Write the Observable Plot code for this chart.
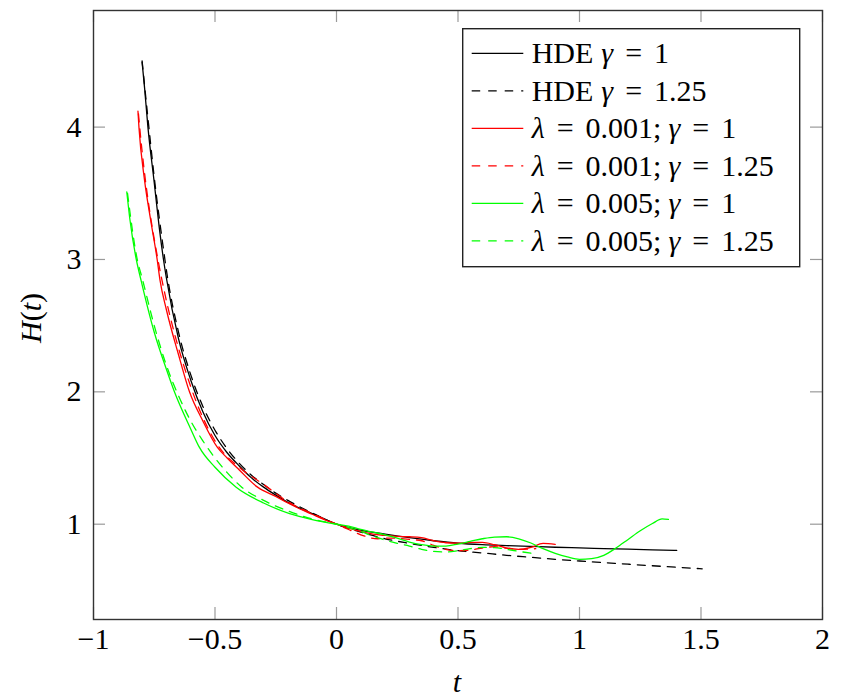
<!DOCTYPE html>
<html><head><meta charset="utf-8">
<script src="https://cdn.jsdelivr.net/npm/d3@7"></script>
<script src="https://cdn.jsdelivr.net/npm/@observablehq/plot@0.6"></script>
<style>
body{margin:0;background:#fff;}
#wrap{position:relative;width:842px;height:700px;font-family:'Liberation Serif','Times New Roman',serif;}
.lab{position:absolute;font-family:'Liberation Serif','Times New Roman',serif;font-size:30px;color:#000;white-space:nowrap;line-height:1;}
.lab i{font-style:italic;}
#legend{position:absolute;left:462px;top:28px;}
</style></head><body>
<div id="wrap">
<div class="lab" id="ylab" style="left:31px;top:318px;transform:translate(-50%,-50%) rotate(-90deg);z-index:2"><i>H</i>(<i>t</i>)</div>
<div class="lab" id="xlab" style="left:457px;top:682px;transform:translate(-50%,-50%);z-index:2"><i>t</i></div>
<div id="chartbox"></div>
</div>
<script>
// ---- data ----
const xTicks = [-1, -0.5, 0, 0.5, 1, 1.5, 2];
const yTicks = [1, 2, 3, 4];

// HDE, gamma = 1 (black solid)
const tHde1 = [-0.80,-0.79,-0.776,-0.75,-0.73,-0.712,-0.70,-0.65,-0.60,-0.55,-0.50,-0.45,-0.40,-0.35,-0.30,-0.25,-0.20,-0.15,-0.10,-0.05,0,0.1,0.2,0.3,0.4,0.5,0.6,0.7,0.8,0.9,1.0,1.1,1.2,1.3,1.4];
const hHde1 = [4.49,4.30,4.00,3.58,3.25,3.00,2.86,2.40,2.09,1.85,1.67,1.54,1.44,1.35,1.28,1.22,1.165,1.12,1.08,1.04,1.00,0.955,0.925,0.898,0.875,0.856,0.845,0.838,0.832,0.826,0.821,0.816,0.811,0.806,0.802];
// HDE, gamma = 1.25 (black dashed)
const tHde125 = [-0.80,-0.775,-0.75,-0.71,-0.70,-0.65,-0.60,-0.55,-0.50,-0.45,-0.40,-0.35,-0.30,-0.25,-0.20,-0.15,-0.10,-0.05,0,0.1,0.2,0.3,0.4,0.5,0.6,0.7,0.8,0.9,1.0,1.1,1.2,1.3,1.4,1.505];
const hHde125 = [4.50,4.05,3.62,3.05,2.92,2.45,2.13,1.89,1.71,1.57,1.46,1.37,1.30,1.235,1.18,1.13,1.085,1.04,1.00,0.94,0.89,0.855,0.825,0.80,0.783,0.765,0.75,0.735,0.722,0.71,0.698,0.686,0.675,0.663];
// lambda = 0.001, gamma = 1 (red solid)
const tR1 = [-0.817,-0.813,-0.79,-0.765,-0.738,-0.726,-0.70,-0.65,-0.605,-0.55,-0.49,-0.45,-0.40,-0.325,-0.25,-0.20,-0.15,-0.10,-0.05,0,0.05,0.1,0.15,0.2,0.25,0.3,0.35,0.4,0.45,0.5,0.55,0.6,0.65,0.7,0.75,0.8,0.85,0.9];
const hR1 = [4.12,4.00,3.60,3.30,3.00,2.84,2.62,2.28,2.00,1.78,1.58,1.50,1.41,1.28,1.21,1.16,1.115,1.075,1.035,1.00,0.97,0.945,0.925,0.915,0.908,0.905,0.898,0.875,0.86,0.857,0.862,0.862,0.845,0.82,0.81,0.825,0.855,0.848];
// lambda = 0.001, gamma = 1.25 (red dashed)
const tR125 = [-0.815,-0.81,-0.735,-0.72,-0.60,-0.49,-0.40,-0.30,-0.20,-0.10,0,0.05,0.1,0.17,0.22,0.3,0.35,0.4,0.45,0.5,0.55,0.6,0.65,0.7,0.75,0.82];
const hR125 = [4.10,4.00,3.00,2.86,2.04,1.60,1.43,1.30,1.17,1.08,1.00,0.96,0.92,0.89,0.895,0.885,0.875,0.84,0.81,0.80,0.805,0.82,0.83,0.82,0.81,0.815];
// lambda = 0.005, gamma = 1 (green solid)
const tG1 = [-0.863,-0.85,-0.824,-0.804,-0.75,-0.70,-0.667,-0.60,-0.564,-0.50,-0.413,-0.30,-0.193,-0.10,0,0.05,0.1,0.15,0.2,0.25,0.3,0.35,0.4,0.45,0.5,0.55,0.6,0.65,0.7,0.75,0.8,0.85,0.9,0.95,1.0,1.05,1.1,1.15,1.2,1.25,1.3,1.34,1.366];
const hG1 = [3.51,3.30,3.00,2.84,2.45,2.17,2.00,1.72,1.58,1.43,1.28,1.16,1.08,1.035,1.00,0.985,0.96,0.94,0.92,0.895,0.865,0.845,0.835,0.835,0.85,0.87,0.89,0.903,0.905,0.89,0.858,0.815,0.78,0.753,0.735,0.74,0.765,0.82,0.885,0.95,1.005,1.04,1.036];
// lambda = 0.005, gamma = 1.25 (green dashed)
const tG125 = [-0.86,-0.82,-0.80,-0.75,-0.70,-0.65,-0.60,-0.55,-0.50,-0.45,-0.39,-0.30,-0.20,-0.10,0,0.05,0.1,0.15,0.2,0.25,0.3,0.35,0.4,0.45,0.5,0.55,0.6,0.65,0.7,0.75,0.82];
const hG125 = [3.50,3.00,2.86,2.50,2.20,1.97,1.78,1.63,1.50,1.39,1.28,1.18,1.10,1.04,1.00,0.975,0.945,0.91,0.88,0.855,0.835,0.81,0.795,0.79,0.80,0.815,0.825,0.823,0.81,0.795,0.775];

const seriesNames = ["HDE γ = 1","HDE γ = 1.25","λ = 0.001; γ = 1","λ = 0.001; γ = 1.25","λ = 0.005; γ = 1","λ = 0.005; γ = 1.25"];
const seriesT = [tHde1, tHde125, tR1, tR125, tG1, tG125];
const seriesH = [hHde1, hHde125, hR1, hR125, hG1, hG125];
const seriesColor = ["#000000","#000000","#ff0000","#ff0000","#00ff00","#00ff00"];
const seriesDash = [null, "8,7", null, "8,7", null, "8,7"];

// ---- chart ----
const W = 842, H = 700, mL = 93, mR = 20, mT = 10, mB = 81;
const innerW = W - mL - mR, innerH = H - mT - mB;
const tickLen = 12;
const fmt = d => (d < 0 ? "\u2212" : "") + Math.abs(d);
const font = "'Liberation Serif', 'Times New Roman', serif";
const fs = 30;

function draw() {
  const box = document.getElementById("chartbox");
  box.innerHTML = "";
  const lineMarks = seriesT.map((ts, i) => Plot.line(ts.map((t, j) => ({t, H: seriesH[i][j]})), {
    x: "t", y: "H", stroke: seriesColor[i], strokeWidth: 1.3,
    strokeDasharray: seriesDash[i] || undefined, curve: "monotone-x"
  }));
  const chart = Plot.plot({
    width: W, height: H, marginLeft: mL, marginRight: mR, marginTop: mT, marginBottom: mB,
    x: {domain: [-1, 2]},
    y: {domain: [0.28, 4.881]},
    style: {fontFamily: font, fontSize: fs + "px", background: "white", color: "black"},
    marks: [
      Plot.tickX(xTicks, {x: d => d, insetTop: innerH - tickLen, stroke: "#9a9a9a", strokeWidth: 1.2}),
      Plot.tickX(xTicks, {x: d => d, insetBottom: innerH - tickLen, stroke: "#9a9a9a", strokeWidth: 1.2}),
      Plot.tickY(yTicks, {y: d => d, insetRight: innerW - tickLen, stroke: "#9a9a9a", strokeWidth: 1.2}),
      Plot.tickY(yTicks, {y: d => d, insetLeft: innerW - tickLen, stroke: "#9a9a9a", strokeWidth: 1.2}),
      ...lineMarks,
      Plot.frame({stroke: "#333", strokeWidth: 1.4}),
      Plot.axisX({ticks: xTicks, tickSize: 0, tickPadding: 8, tickFormat: fmt, fontSize: fs, label: null}),
      Plot.axisY({ticks: yTicks, tickSize: 0, tickPadding: 12, tickFormat: fmt, fontSize: fs, label: null})
    ]
  });
  box.appendChild(chart);

  // legend
  const lg = d3.select(box).append("svg").attr("id", "legend")
    .attr("width", 340).attr("height", 242);
  lg.append("rect").attr("x", 0.7).attr("y", 0.7).attr("width", 337).attr("height", 238)
    .attr("fill", "white").attr("stroke", "#222").attr("stroke-width", 1.4);
  const rowY = i => 25.3 + i * 37.5;
  seriesNames.forEach((name, i) => {
    const y = rowY(i);
    lg.append("line").attr("x1", 9.7).attr("x2", 61.3).attr("y1", y).attr("y2", y)
      .attr("stroke", seriesColor[i]).attr("stroke-width", 1.3)
      .attr("stroke-dasharray", seriesDash[i] ? "8.5,8" : null);
    const tx = lg.append("text").attr("x", 69.7).attr("y", y + 10)
      .style("font-family", font).attr("font-size", fs).attr("fill", "black");
    const parts = name.split(/([λγ=;])/).filter(s => s.length);
    let prev = null;
    parts.forEach(p => {
      const txt = p.trim();
      if (!txt) return;
      const ts = tx.append("tspan").text(txt);
      if (txt === "λ" || txt === "γ") ts.attr("font-style", "italic");
      if (prev !== null && txt !== ";") {
        ts.attr("dx", (txt === "=" || prev === "=") ? 12 : (prev === ";" ? 7 : 8));
      }
      prev = txt;
    });
  });
}

draw();
// redraw once the serif faces are ready, so the text uses them
if (document.fonts && document.fonts.load) {
  Promise.all([
    document.fonts.load("30px 'Liberation Serif'"),
    document.fonts.load("italic 30px 'Liberation Serif'")
  ]).then(draw, draw);
  document.fonts.ready.then(draw);
}
</script>
</body></html>
